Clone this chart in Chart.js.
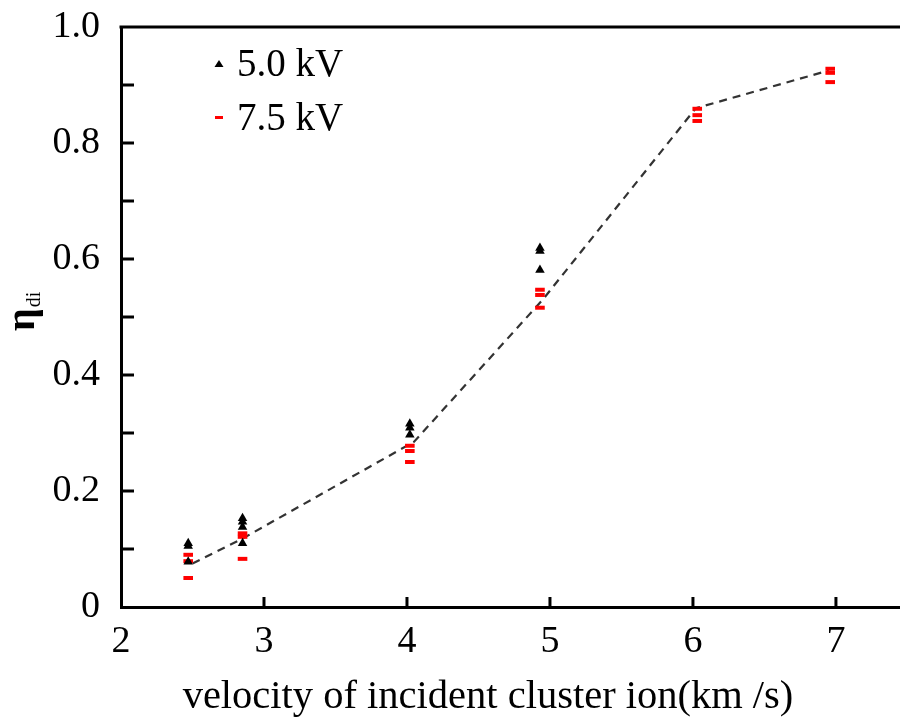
<!DOCTYPE html>
<html>
<head>
<meta charset="utf-8">
<script src="https://cdn.jsdelivr.net/npm/chart.js@4.4.0/dist/chart.umd.min.js"></script>
<style>
  html, body { margin: 0; padding: 0; background: #fff; overflow: hidden; }
  #wrap { width: 900px; height: 720px; }
  canvas { display: block; }
</style>
</head>
<body>
<div id="wrap"><canvas id="chart" width="900" height="720"></canvas></div>
<script>
// velocity (km/s) and eta_di
const kv50X = [2.47, 2.47, 2.47, 2.85, 2.85, 2.85, 2.85, 4.02, 4.02, 4.02, 4.93, 4.93, 4.93];
const kv50Y = [0.110, 0.105, 0.078, 0.153, 0.147, 0.138, 0.110, 0.316, 0.309, 0.297, 0.619, 0.614, 0.581];
const kv75X = [2.47, 2.47, 2.47, 2.85, 2.85, 2.85, 4.02, 4.02, 4.02, 4.93, 4.93, 4.93, 6.03, 6.03, 6.03, 6.96, 6.96, 6.96];
const kv75Y = [0.090, 0.079, 0.050, 0.127, 0.121, 0.083, 0.278, 0.269, 0.250, 0.547, 0.538, 0.516, 0.859, 0.848, 0.838, 0.928, 0.921, 0.905];
const fitX = [2.5, 2.85, 4.05, 4.95, 6.02, 6.95];
const fitY = [0.075, 0.118, 0.285, 0.53, 0.86, 0.925];
const xTicks = [2, 3, 4, 5, 6, 7];
const seriesLabels = ['5.0 kV', '7.5 kV'];
const xTitle = 'velocity of incident cluster ion(km /s)';

const X_MAX = 7.448;
const FONT = '"Liberation Serif", "Times New Roman", serif';

function pts(xs, ys) {
  return xs.map((x, i) => ({ x: x, y: ys[i] }));
}

// inward tick marks, top frame line, legend and axis titles
const decorations = {
  id: 'decorations',
  afterDraw(chart) {
    const ctx = chart.ctx;
    const area = chart.chartArea;
    const xs = chart.scales.x;
    const ys = chart.scales.y;
    ctx.save();
    ctx.strokeStyle = '#000';
    ctx.lineWidth = 3;
    // top frame
    ctx.beginPath();
    ctx.moveTo(area.left - 1.5, area.top);
    ctx.lineTo(area.right, area.top);
    ctx.stroke();
    // y ticks (every 0.1)
    ys.ticks.forEach(t => {
      const py = ys.getPixelForValue(t.value);
      if (Math.abs(py - area.top) < 2 || Math.abs(py - area.bottom) < 2) return;
      ctx.beginPath();
      ctx.moveTo(area.left, py);
      ctx.lineTo(area.left + 13, py);
      ctx.stroke();
    });
    // x ticks
    xs.ticks.forEach(t => {
      const px = xs.getPixelForValue(t.value);
      if (px - area.left < 2 || area.right - px < 2) return;
      ctx.beginPath();
      ctx.moveTo(px, area.bottom);
      ctx.lineTo(px, area.bottom - 10);
      ctx.stroke();
    });

    // legend
    ctx.fillStyle = '#000';
    ctx.font = '39px ' + FONT;
    ctx.textBaseline = 'alphabetic';
    ctx.textAlign = 'left';
    const lx = 219;
    ctx.beginPath();
    ctx.moveTo(lx, 60);
    ctx.lineTo(lx + 4.5, 67);
    ctx.lineTo(lx - 4.5, 67);
    ctx.closePath();
    ctx.fill();
    ctx.fillText(seriesLabels[0], 237, 76);
    ctx.fillStyle = '#ff0000';
    ctx.fillRect(lx - 4, 116, 8, 3);
    ctx.fillStyle = '#000';
    ctx.fillText(seriesLabels[1], 237, 130);

    // x title
    ctx.textAlign = 'center';
    ctx.font = '40.5px ' + FONT;
    ctx.fillText(xTitle, 488, 708);

    // y title: bold eta with subscript di, rotated
    ctx.translate(34, 331);
    ctx.rotate(-Math.PI / 2);
    ctx.textAlign = 'left';
    ctx.font = 'bold 40px ' + FONT;
    ctx.fillText('η', 0, 0);
    const w = ctx.measureText('η').width;
    ctx.font = '20px ' + FONT;
    ctx.fillText('di', w + 1, 6);
    ctx.restore();
  }
};

new Chart(document.getElementById('chart'), {
  type: 'scatter',
  data: {
    datasets: [
      {
        label: seriesLabels[0],
        data: pts(kv50X, kv50Y),
        pointStyle: 'triangle',
        pointRadius: 5.5,
        pointHoverRadius: 5.5,
        backgroundColor: '#000',
        borderColor: '#000',
        borderWidth: 0
      },
      {
        label: seriesLabels[1],
        data: pts(kv75X, kv75Y),
        pointStyle: 'line',
        pointRadius: 4.8,
        pointHoverRadius: 4.8,
        backgroundColor: '#ff0000',
        borderColor: '#ff0000',
        borderWidth: 4
      },
      {
        label: 'fit',
        data: pts(fitX, fitY),
        showLine: true,
        pointRadius: 0,
        borderColor: '#333',
        borderWidth: 2.2,
        borderDash: [8, 6],
        fill: false,
        tension: 0
      }
    ]
  },
  options: {
    responsive: false,
    animation: false,
    layout: { autoPadding: false, padding: { left: 0, top: 27, right: 0, bottom: 0 } },
    plugins: {
      legend: { display: false },
      tooltip: { enabled: false }
    },
    scales: {
      x: {
        type: 'linear',
        min: 2,
        max: X_MAX,
        afterFit(scale) { scale.height = 113; },
        afterBuildTicks(scale) {
          // unlabelled end tick so no room is reserved for a label at the right edge
          scale.ticks = xTicks.concat([X_MAX]).map(v => ({ value: v }));
        },
        border: { display: true, color: '#000', width: 3 },
        // invisible outer ticks give the label gap (ticks.padding would also pad the right side)
        grid: {
          display: true,
          drawOnChartArea: false,
          drawTicks: true,
          tickLength: 12,
          tickColor: 'rgba(0,0,0,0)'
        },
        ticks: {
          padding: 0,
          color: '#000',
          font: { family: FONT, size: 38 },
          maxRotation: 0,
          autoSkip: false,
          callback(val) {
            return xTicks.includes(val) ? String(val) : '';
          }
        }
      },
      y: {
        min: 0,
        max: 1,
        afterFit(scale) {
          scale.width = 121;
          scale.paddingTop = 0;
          scale.paddingBottom = 0;
        },
        border: { display: true, color: '#000', width: 3 },
        grid: { display: false, drawTicks: false },
        ticks: {
          stepSize: 0.1,
          padding: 21,
          color: '#000',
          font: { family: FONT, size: 38 },
          callback(val) {
            const k = Math.round(val * 10);
            if (k % 2) return '';
            return k === 0 ? '0' : (k / 10).toFixed(1);
          }
        }
      }
    }
  },
  plugins: [decorations]
});
</script>
</body>
</html>
